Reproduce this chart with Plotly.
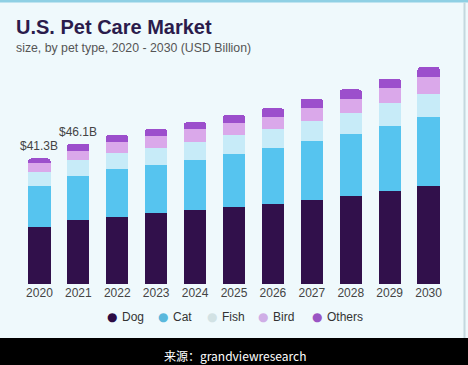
import plotly.graph_objects as go

years = ["2020", "2021", "2022", "2023", "2024", "2025", "2026", "2027", "2028", "2029", "2030"]
dog = [18.9, 21.0, 22.0, 23.3, 24.4, 25.3, 26.2, 27.5, 28.9, 30.5, 32.1]
cat = [13.5, 14.4, 15.9, 15.9, 16.4, 17.6, 18.5, 19.5, 20.5, 21.4, 23.0]
fish = [4.3, 5.5, 5.1, 5.6, 6.0, 6.0, 6.4, 6.5, 6.8, 7.6, 7.5]
bird = [3.0, 3.0, 3.8, 3.8, 4.2, 4.0, 4.0, 4.4, 4.7, 4.9, 5.5]
others = [1.6, 2.2, 2.2, 2.4, 2.2, 2.8, 2.7, 3.1, 3.1, 3.1, 3.3]

series_names = ["Dog", "Cat", "Fish", "Bird", "Others"]
series_values = [dog, cat, fish, bird, others]
bar_colors = ["#31104b", "#56c4ef", "#c7ebf8", "#daa8ea", "#9c4fcc"]
legend_dot_colors = ["#2c0c44", "#5ab8dc", "#d2e2e4", "#cfaee6", "#9a55c4"]

label_years = ["2020", "2021"]
label_texts = ["$41.3B", "$46.1B"]

title_text = "U.S. Pet Care Market"
subtitle_text = "size, by pet type, 2020 - 2030 (USD Billion)"
source_text = "来源：grandviewresearch"

W, H = 468, 365
L, R, T, B = 20, 20, 60, 81
PW = W - L - R
PH = H - T - B
BASE = H - B


def px(x):
    return (x - L) / PW


def py(y):
    return (BASE - y) / PH


fig = go.Figure()
for name, vals, col in zip(series_names, series_values, bar_colors):
    fig.add_trace(go.Bar(x=years, y=vals, name=name, marker=dict(color=col, line=dict(width=0)),
                         showlegend=False))

totals = [round(sum(v), 1) for v in zip(*series_values)]
annotations = []
for yr, txt in zip(label_years, label_texts):
    i = years.index(yr)
    annotations.append(dict(x=i, y=totals[i], xref="x", yref="y", text=txt,
                            showarrow=False, yanchor="bottom", yshift=3,
                            font=dict(family="Liberation Sans, Arial", size=12, color="#444444")))

# title & subtitle
annotations.append(dict(x=px(14), y=py(27.5), xref="paper", yref="paper", text="<b>" + title_text + "</b>",
                        showarrow=False, xanchor="left", yanchor="middle",
                        font=dict(family="Liberation Sans, Arial", size=20, color="#2b1c4c")))
annotations.append(dict(x=px(14), y=py(47.5), xref="paper", yref="paper", text=subtitle_text,
                        showarrow=False, xanchor="left", yanchor="middle",
                        font=dict(family="Liberation Sans, Arial", size=12.3, color="#555555")))

# custom legend
dot_x = [111.5, 163, 212, 263, 317]
for name, col, dx in zip(series_names, legend_dot_colors, dot_x):
    annotations.append(dict(x=px(dx), y=py(317), xref="paper", yref="paper", text="●",
                            showarrow=False, xanchor="center", yanchor="middle",
                            font=dict(family="DejaVu Sans", size=12, color=col)))
    annotations.append(dict(x=px(dx + 8), y=py(317), xref="paper", yref="paper", text=name,
                            showarrow=False, xanchor="left", yanchor="middle",
                            font=dict(family="Liberation Sans, Arial", size=12, color="#333333")))

# source
annotations.append(dict(x=px(235), y=py(355), xref="paper", yref="paper", text=source_text,
                        showarrow=False, xanchor="center", yanchor="middle",
                        font=dict(family="Noto Sans CJK SC, Liberation Sans", size=12, color="#ffffff")))

shapes = [
    dict(type="rect", xref="paper", yref="paper", x0=px(-5), x1=px(W + 5), y0=py(338), y1=py(H + 5),
         fillcolor="#000000", line=dict(width=0), layer="above"),
    dict(type="rect", xref="paper", yref="paper", x0=px(-5), x1=px(W + 5), y0=py(-2), y1=py(2.5),
         fillcolor="#8fd0e4", line=dict(width=0), layer="below"),
    dict(type="rect", xref="paper", yref="paper", x0=px(463.5), x1=px(465.5), y0=py(2.5), y1=py(338),
         fillcolor="#c4d8de", line=dict(width=0), layer="below"),
]

fig.update_layout(
    width=W, height=H,
    margin=dict(l=L, r=R, t=T, b=B, pad=0),
    barmode="stack",
    bargap=0.43,
    barcornerradius=3,
    paper_bgcolor="#eff9fc",
    plot_bgcolor="#eff9fc",
    showlegend=False,
    annotations=annotations,
    shapes=shapes,
    xaxis=dict(type="category", range=[-0.5, len(years) - 0.5], showgrid=False, showline=False,
               zeroline=False, ticks="",
               tickfont=dict(family="Liberation Sans, Arial", size=12, color="#444444")),
    yaxis=dict(range=[0, PH / 3.04], visible=False, showgrid=False, zeroline=False),
)

fig.write_html("out.html", config={"displayModeBar": False, "staticPlot": True},
               post_script="document.body.style.margin='0';document.body.style.padding='0';document.body.style.overflow='hidden';")
